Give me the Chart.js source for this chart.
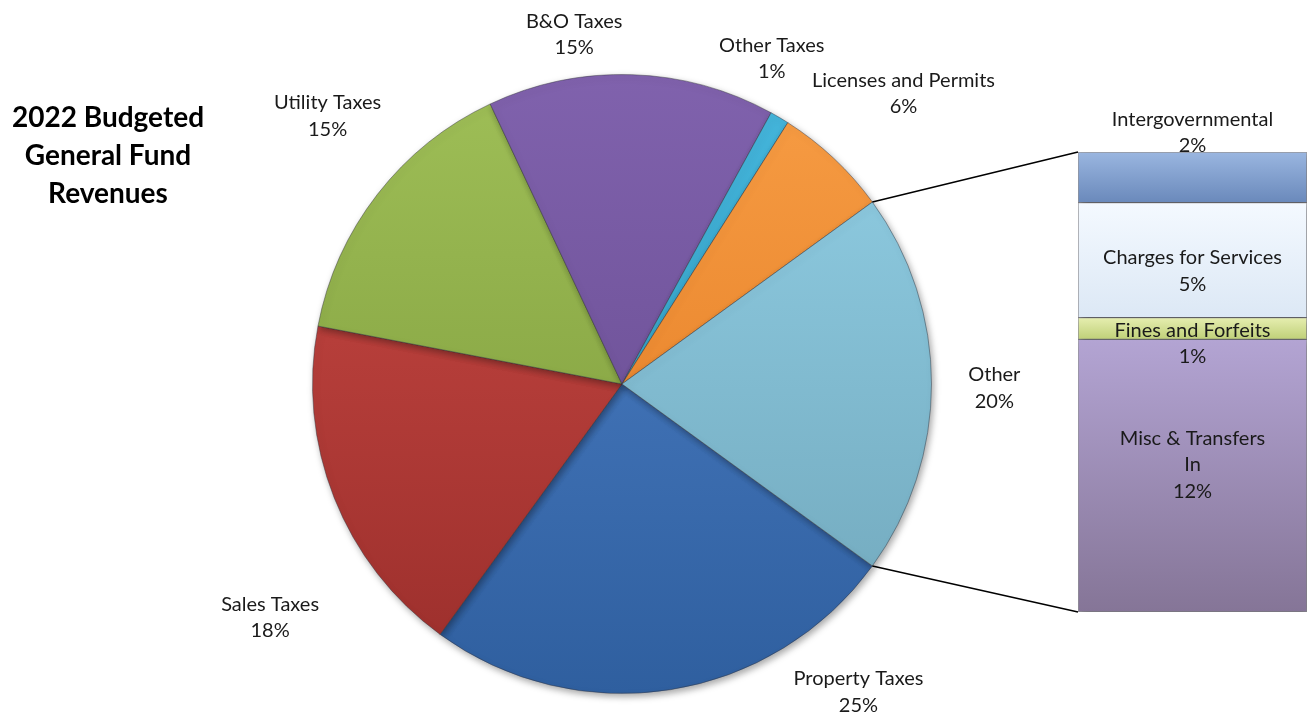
<!DOCTYPE html>
<html>
<head>
<meta charset="utf-8">
<script src="https://cdn.jsdelivr.net/npm/chart.js@4.4.1/dist/chart.umd.min.js"></script>
<style>
  html, body { margin: 0; padding: 0; background: #fff; }
  #wrap { position: relative; width: 1311px; height: 717px; overflow: hidden; }
  #graficoPie { position: absolute; left: 0; top: 0; z-index: 0; }
  #graficoBarra { position: absolute; left: 1060px; top: 0; z-index: 1; }
  #titulo {
    position: absolute; left: 0; top: 97px; width: 216px; text-align: center;
    font: bold 28px Lato, "Open Sans", sans-serif; line-height: 38px; color: #000; z-index: 2;
  }
</style>
</head>
<body>
<div id="wrap">
  <canvas id="graficoPie" width="1311" height="717"></canvas>
  <canvas id="graficoBarra" width="251" height="717"></canvas>
  <div id="titulo">2022 Budgeted<br>General Fund<br>Revenues</div>
</div>
<script>
// Datos del grafico (porcentajes)
const pieLabels = ["Property Taxes", "Sales Taxes", "Utility Taxes", "B&O Taxes", "Other Taxes", "Licenses and Permits", "Other"];
const pieValues = [25, 18, 15, 15, 1, 6, 20];

// desglose de "Other" en la barra
const barLabels = [["Intergovernmental"], ["Charges for Services"], ["Fines and Forfeits"], ["Misc & Transfers", "In"]];
const barValues = [2.2, 5.0, 0.95, 11.85];

// colores [arriba, abajo]
const pieColors = [
  ["#4f82c9", "#2f5f9f"],
  ["#cb4a45", "#9a2e2b"],
  ["#9fbf57", "#799638"],
  ["#8062ad", "#62478a"],
  ["#45b6dc", "#2a94b8"],
  ["#f79d45", "#e0761c"],
  ["#92d0e6", "#6fa5b9"]
];
const barColors = [
  ["#9ab6e0", "#6a89bb"],
  ["#f4f9ff", "#dce8f5"],
  ["#e6eeb0", "#bfd078"],
  ["#b3a4d3", "#857597"]
];

// ubicacion de etiquetas de la torta: giro (grados) y distancia (x radio)
const pieLabelShift = [-28.5, -12, 4.5, -9.6, -5.9, 0.9, 0.6];
const pieLabelDist = [1.255, 1.365, 1.286, 1.139, 1.158, 1.307, 1.203];
// desplazamiento vertical de etiquetas de la barra
const barLabelDy = [-45, 11, 15, -11];

const fuente = "20px Lato, 'Open Sans', sans-serif";
const colorTexto = "#1a1a1a";

const pieTotal = pieValues.reduce((a, b) => a + b, 0);
const barTotal = barValues.reduce((a, b) => a + b, 0);

function gradVertical(ctx, top, bottom, par) {
  const g = ctx.createLinearGradient(0, top, 0, bottom);
  g.addColorStop(0, par[0]);
  g.addColorStop(1, par[1]);
  return g;
}

function dibujarLineas(ctx, lineas, x, y, alto) {
  const y0 = y - (lineas.length - 1) * alto / 2;
  lineas.forEach((t, k) => ctx.fillText(t, x, y0 + k * alto));
}

const sombra = {
  id: "sombra",
  beforeDatasetsDraw(chart) {
    const ctx = chart.ctx;
    ctx.save();
    ctx.shadowColor = "rgba(0,0,0,0.35)";
    ctx.shadowBlur = 7;
    ctx.shadowOffsetX = 2;
    ctx.shadowOffsetY = 3;
  },
  afterDatasetsDraw(chart) {
    chart.ctx.restore();
  }
};

// Barra apilada (a la derecha)
const canvasBarra = document.getElementById("graficoBarra");
const graficoBarra = new Chart(canvasBarra.getContext("2d"), {
  type: "bar",
  data: {
    labels: [""],
    datasets: barLabels.map((l, i) => ({
      label: l.join(" "),
      data: [barValues[i]],
      stack: "s",
      barPercentage: 1,
      categoryPercentage: 1,
      borderWidth: 1,
      borderSkipped: false,
      borderColor: "rgba(80,80,90,0.55)",
      backgroundColor: (c) => {
        const chart = c.chart;
        if (!chart.chartArea || !chart.scales.y) return barColors[i][0];
        const desde = barValues.slice(0, i).reduce((a, b) => a + b, 0);
        const y1 = chart.scales.y.getPixelForValue(desde);
        const y2 = chart.scales.y.getPixelForValue(desde + barValues[i]);
        return gradVertical(chart.ctx, Math.min(y1, y2), Math.max(y1, y2), barColors[i]);
      }
    }))
  },
  options: {
    responsive: false,
    animation: false,
    layout: { padding: { left: 18, right: 4, top: 152, bottom: 105 } },
    scales: {
      x: { display: false, stacked: true },
      y: { display: false, stacked: true, reverse: true, min: 0, max: barTotal }
    },
    plugins: { legend: { display: false }, tooltip: { enabled: false } }
  },
  plugins: [sombra, {
    id: "etiquetasBarra",
    afterDatasetsDraw(chart) {
      const ctx = chart.ctx;
      ctx.save();
      ctx.font = fuente;
      ctx.fillStyle = colorTexto;
      ctx.textAlign = "center";
      ctx.textBaseline = "middle";
      barLabels.forEach((l, i) => {
        const el = chart.getDatasetMeta(i).data[0];
        const pct = Math.round(barValues[i] / pieTotal * 100) + "%";
        dibujarLineas(ctx, [...l, pct], el.x, (el.y + el.base) / 2 + barLabelDy[i], 26.5);
      });
      ctx.restore();
    }
  }]
});

// Torta principal
const graficoPie = new Chart(document.getElementById("graficoPie").getContext("2d"), {
  type: "pie",
  data: {
    labels: pieLabels,
    datasets: [{
      data: pieValues,
      borderWidth: 1,
      borderColor: "rgba(50,50,60,0.45)",
      backgroundColor: (c) => {
        const area = c.chart.chartArea;
        if (!area) return pieColors[c.dataIndex][0];
        return gradVertical(c.chart.ctx, area.top, area.bottom, pieColors[c.dataIndex]);
      }
    }]
  },
  options: {
    responsive: false,
    animation: false,
    rotation: 126,
    layout: { padding: { left: 312, right: 379, top: 74, bottom: 23 } },
    plugins: { legend: { display: false }, tooltip: { enabled: false } }
  },
  plugins: [sombra, {
    id: "etiquetasPie",
    afterDatasetsDraw(chart) {
      const ctx = chart.ctx;
      const arcos = chart.getDatasetMeta(0).data;
      ctx.save();
      ctx.font = fuente;
      ctx.fillStyle = colorTexto;
      ctx.textAlign = "center";
      ctx.textBaseline = "middle";
      arcos.forEach((arc, i) => {
        const ang = (arc.startAngle + arc.endAngle) / 2 + pieLabelShift[i] * Math.PI / 180;
        const d = arc.outerRadius * pieLabelDist[i];
        const pct = Math.round(pieValues[i] / pieTotal * 100) + "%";
        dibujarLineas(ctx, [pieLabels[i], pct], arc.x + Math.cos(ang) * d, arc.y + Math.sin(ang) * d, 26.5);
      });

      // lineas de conexion entre "Other" y la barra
      const otro = arcos[arcos.length - 1];
      const barras = barLabels.map((l, i) => graficoBarra.getDatasetMeta(i).data[0]);
      const izq = canvasBarra.offsetLeft + barras[0].x - barras[0].width / 2;
      const arriba = Math.min(...barras.map(b => Math.min(b.y, b.base)));
      const abajo = Math.max(...barras.map(b => Math.max(b.y, b.base)));
      ctx.strokeStyle = "#000";
      ctx.lineWidth = 1.5;
      ctx.beginPath();
      ctx.moveTo(otro.x + Math.cos(otro.startAngle) * otro.outerRadius, otro.y + Math.sin(otro.startAngle) * otro.outerRadius);
      ctx.lineTo(izq, arriba);
      ctx.moveTo(otro.x + Math.cos(otro.endAngle) * otro.outerRadius, otro.y + Math.sin(otro.endAngle) * otro.outerRadius);
      ctx.lineTo(izq, abajo);
      ctx.stroke();
      ctx.restore();
    }
  }]
});
</script>
</body>
</html>
